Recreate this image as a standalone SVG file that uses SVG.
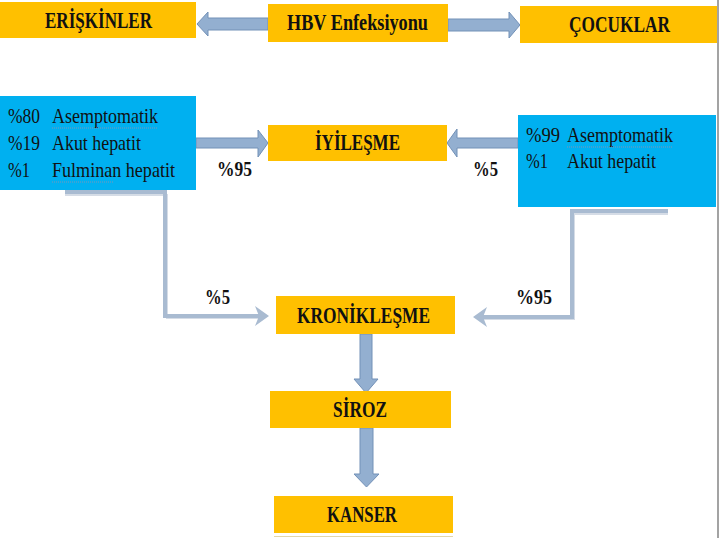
<svg xmlns="http://www.w3.org/2000/svg" width="720" height="540" viewBox="0 0 720 540" font-family="Liberation Serif, Times New Roman, serif">
<style>
.box{fill:#FFC000}
.blue{fill:#00B0F0}
.arr{fill:#93AFD0;stroke:#7391B7;stroke-width:1}
.elb{fill:none;stroke:#A9BBD1;stroke-width:4}
.sh{fill:none;stroke:#D5DCE6;stroke-width:2}
.sq{fill:none;stroke:#8194B4;stroke-width:1.2;stroke-dasharray:1 1}
</style>
<rect width="720" height="540" fill="#fff"/>
<line x1="718" y1="0" x2="718" y2="538" stroke="#A3A3A3" stroke-width="2"/>

<g id="connectors">
<polygon class="arr" points="197,24 208,12 208,18 268,18 268,30 208,30 208,36"/>
<polygon class="arr" points="448,19 509,19 509,12 520,25 509,38 509,31 448,31"/>
<polygon class="arr" points="196,138 258,138 258,130 268,143 258,157 258,148 196,148"/>
<polygon class="arr" points="518,138 457,138 457,129 447,143 457,157 457,148 518,148"/>
<polygon class="arr" points="360,334 372,334 372,379 378,379 366,393 354,379 360,379"/>
<polygon class="arr" points="360,428 373,428 373,474 379,474 366.5,487 354,474 360,474"/>
<path class="sh" d="M65,195 H167 V318 H262"/>
<path class="elb" d="M65,192 H165 V316 H262"/>
<polygon fill="#A9BBD1" points="255,306 269,316 255,326 259,316"/>
<path class="sh" d="M668,214 H574 V319 H480"/>
<path class="elb" d="M668,211 H572 V317 H480"/>
<polygon fill="#A9BBD1" points="487,307 473,317 487,327 483,317"/>
<g font-family="Liberation Serif, Times New Roman, serif" font-weight="bold" font-size="22" fill="#111">
<text x="217" y="176" textLength="35" lengthAdjust="spacingAndGlyphs">%95</text>
<text x="473" y="176" textLength="25" lengthAdjust="spacingAndGlyphs">%5</text>
<text x="205" y="304" textLength="25" lengthAdjust="spacingAndGlyphs">%5</text>
<text x="516" y="304" textLength="36" lengthAdjust="spacingAndGlyphs">%95</text>
</g>
</g>

<g font-family="Liberation Serif, Times New Roman, serif" font-weight="bold" font-size="23" fill="#111">
<g id="eriskinler">
<rect class="box" x="0" y="2" width="196" height="36"/>
<text x="45" y="28" textLength="107" lengthAdjust="spacingAndGlyphs">ERİŞKİNLER</text>
</g>
<g id="hbv">
<rect class="box" x="268" y="4" width="180" height="38"/>
<text x="287" y="30" textLength="141" lengthAdjust="spacingAndGlyphs">HBV Enfeksiyonu</text>
</g>
<g id="cocuklar">
<rect class="box" x="520" y="6" width="197" height="37"/>
<text x="569" y="32" textLength="101" lengthAdjust="spacingAndGlyphs">ÇOCUKLAR</text>
</g>
<g id="iyilesme">
<rect class="box" x="268" y="125" width="179" height="36"/>
<text x="315" y="150" textLength="85" lengthAdjust="spacingAndGlyphs">İYİLEŞME</text>
</g>
<g id="kroniklesme">
<rect class="box" x="276" y="296" width="179" height="38"/>
<text x="297" y="323" textLength="133" lengthAdjust="spacingAndGlyphs">KRONİKLEŞME</text>
</g>
<g id="siroz">
<rect class="box" x="270" y="391" width="181" height="37"/>
<text x="333" y="417" textLength="54" lengthAdjust="spacingAndGlyphs">SİROZ</text>
</g>
<g id="kanser">
<rect class="box" x="274" y="496" width="179" height="37"/>
<line x1="274" y1="536.5" x2="453" y2="536.5" stroke="#E3D7A8" stroke-width="1"/>
<text x="327" y="522" textLength="70" lengthAdjust="spacingAndGlyphs">KANSER</text>
</g>
</g>

<g font-family="Liberation Serif, Times New Roman, serif" font-size="21" fill="#111">
<g id="eriskin-detay">
<rect class="blue" x="0" y="96" width="196" height="94"/>
<text x="8" y="123" textLength="32" lengthAdjust="spacingAndGlyphs">%80</text>
<text x="52" y="123" textLength="106" lengthAdjust="spacingAndGlyphs">Asemptomatik</text>
<text x="8" y="150" textLength="32" lengthAdjust="spacingAndGlyphs">%19</text>
<text x="52" y="150" textLength="89" lengthAdjust="spacingAndGlyphs">Akut hepatit</text>
<text x="8" y="177" textLength="22" lengthAdjust="spacingAndGlyphs">%1</text>
<text x="52" y="177" textLength="123" lengthAdjust="spacingAndGlyphs">Fulminan hepatit</text>
<path class="sq" d="M52,128 H158 M52,182 H113"/>
</g>
<g id="cocuk-detay">
<rect class="blue" x="518" y="115" width="198" height="92"/>
<text x="526" y="142" textLength="34" lengthAdjust="spacingAndGlyphs">%99</text>
<text x="567" y="142" textLength="106" lengthAdjust="spacingAndGlyphs">Asemptomatik</text>
<text x="526" y="168" textLength="22" lengthAdjust="spacingAndGlyphs">%1</text>
<text x="567" y="168" textLength="89" lengthAdjust="spacingAndGlyphs">Akut hepatit</text>
<path class="sq" d="M567,147 H673"/>
</g>
</g>
</svg>
